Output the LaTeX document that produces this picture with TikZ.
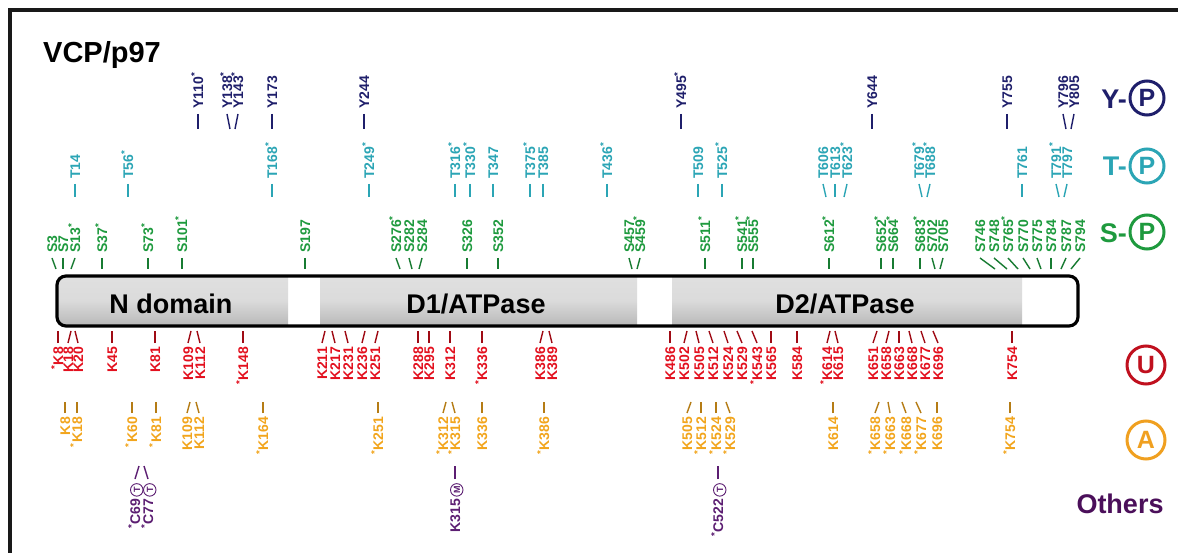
\documentclass[tikz,border=0pt]{standalone}
\usepackage{fontspec}
\setmainfont{Liberation Sans}
\usetikzlibrary{calc}
\definecolor{ycol}{HTML}{1F1F6B}
\definecolor{tcol}{HTML}{2BA5B5}
\definecolor{scol}{HTML}{1E9A3E}
\definecolor{ucol}{HTML}{E3101E}
\definecolor{acol}{HTML}{F2A51C}
\definecolor{ocol}{HTML}{5C1E72}
\definecolor{ucirc}{HTML}{C0101E}
\definecolor{acirc}{HTML}{F0A020}
\definecolor{othcol}{HTML}{4B0F5A}
\newcommand\astr{\textsuperscript{*}}
% small circled letter (symbol drawn as a shape)
\newcommand\circled[1]{\,\tikz[baseline=(c.base),x=1pt,y=1pt]\node[circle,draw=ocol,line width=0.9pt,inner sep=0pt,
   minimum size=12.5pt,text height=6.5pt,text depth=0pt,text=ocol,
   font=\fontsize{9}{9}\selectfont\bfseries] (c) {#1};}
% top label: style, name, x, dx, text, y text start, y tick end
\newcommand\toplab[7]{%
  \node[#1,anchor=west] (#2) at (#3,#6) {#5};
  \coordinate (#2-b) at ({#3+#4},#7);
  \draw[#1-tk] ([yshift=-5pt]#2.west) -- (#2-b);}
% bottom label: style, name, x, dx, text, y text top, y tick end
\newcommand\botlab[7]{%
  \node[#1,anchor=east] (#2) at (#3,#6) {#5};
  \coordinate (#2-b) at ({#3+#4},#7);
  \draw[#1-tk] ([yshift=4pt]#2.east) -- (#2-b);}
\newcommand\Ylab[4]{\toplab{ylab}{#1}{#2}{#3}{#4}{109}{129}}
\newcommand\Tlab[4]{\toplab{tlab}{#1}{#2}{#3}{#4}{179}{197}}
\newcommand\Slab[4]{\toplab{slab}{#1}{#2}{#3}{#4}{253}{269}}
\newcommand\Ulab[4]{\botlab{ulab}{#1}{#2}{#3}{#4}{347}{331}}
\newcommand\Alab[4]{\botlab{alab}{#1}{#2}{#3}{#4}{417}{402}}
\newcommand\Olab[4]{\botlab{olab}{#1}{#2}{#3}{#4}{483}{466}}
\tikzset{
  tk/.style={line width=1.4pt},
  lab/.style={inner sep=0pt, rotate=90, text height=10pt, text depth=0pt,
              font=\fontsize{14}{14}\selectfont\bfseries},
  ylab/.style={lab, text=ycol}, ylab-tk/.style={tk, draw=ycol},
  tlab/.style={lab, text=tcol}, tlab-tk/.style={tk, draw=tcol},
  slab/.style={lab, text=scol}, slab-tk/.style={tk, draw=scol!80!black},
  ulab/.style={lab, text=ucol}, ulab-tk/.style={tk, draw=ucol!70!black},
  alab/.style={lab, text=acol}, alab-tk/.style={tk, draw=acol!75!black},
  olab/.style={lab, text=ocol}, olab-tk/.style={tk, draw=ocol},
  frame/.style={line width=4pt, draw=black!90},
  barline/.style={line width=3.2pt, rounded corners=9pt},
  dom/.style={top color=gray!24, bottom color=gray!60, middle color=gray!28},
  domtxt/.style={font=\fontsize{27}{27}\selectfont\bfseries, inner sep=0pt, anchor=base},
  ttl/.style={font=\fontsize{29}{29}\selectfont\bfseries, inner sep=0pt, anchor=base west},
  legtxt/.style={font=\fontsize{27}{27}\selectfont\bfseries, inner sep=0pt},
  legcirc/.style={circle, line width=3pt, minimum size=34pt, inner sep=0pt,
                  font=\fontsize{25}{25}\selectfont\bfseries},
}
\begin{document}
\begin{tikzpicture}[x=1pt,y=-1pt]
\useasboundingbox (0,0) rectangle (1178,553);
\clip (0,0) rectangle (1178,553);
\fill[white] (0,0) rectangle (1178,553);
\draw[frame] (1200,10) -- (10,10) -- (10,600);

\node[ttl] (title) at (43,63) {VCP/p97};

% protein bar
\begin{scope}
  \clip[rounded corners=9pt] (57,276) rectangle (1078,326);
  \shade[dom] (50,270) rectangle (288,330);
  \shade[dom] (320,270) rectangle (637,330);
  \shade[dom] (672,270) rectangle (1022,330);
\end{scope}
\draw[barline] (57,276) rectangle (1078,326);
\node[domtxt] (nd) at (171,313) {N domain};
\node[domtxt] (d1) at (476,313) {D1/ATPase};
\node[domtxt] (d2) at (845,313) {D2/ATPase};

% Y row
\Ylab{y110}{198}{0}{Y110\astr}
\Ylab{y138}{227}{3}{Y138\astr}
\Ylab{y143}{238}{-3}{Y143\astr}
\Ylab{y173}{272}{0}{Y173}
\Ylab{y244}{364}{0}{Y244}
\Ylab{y495}{681}{0}{Y495\astr}
\Ylab{y644}{872}{0}{Y644}
\Ylab{y755}{1007}{0}{Y755}
\Ylab{y796}{1063}{3}{Y796}
\Ylab{y805}{1074}{-3}{Y805}

% T row
\Tlab{t14}{75}{0}{T14}
\Tlab{t56}{128}{0}{T56\astr}
\Tlab{t168}{272}{0}{T168\astr}
\Tlab{t249}{369}{0}{T249\astr}
\Tlab{t316}{455}{0}{T316\astr}
\Tlab{t330}{470}{0}{T330\astr}
\Tlab{t347}{493}{0}{T347}
\Tlab{t375}{530}{0}{T375\astr}
\Tlab{t385}{543}{0}{T385}
\Tlab{t436}{607}{0}{T436\astr}
\Tlab{t509}{698}{0}{T509}
\Tlab{t525}{722}{0}{T525\astr}
\Tlab{t606}{823}{3}{T606}
\Tlab{t613}{835}{0}{T613}
\Tlab{t623}{847}{-3}{T623\astr}
\Tlab{t679}{919}{3}{T679\astr}
\Tlab{t688}{930}{-3}{T688\astr}
\Tlab{t761}{1022}{0}{T761}
\Tlab{t791}{1056}{3}{T791\astr}
\Tlab{t797}{1067}{-3}{T797}

% S row
\Slab{s3}{52}{4}{S3}
\Slab{s7}{63}{0}{S7}
\Slab{s13}{75}{-4}{S13\astr}
\Slab{s37}{102}{0}{S37\astr}
\Slab{s73}{148}{0}{S73\astr}
\Slab{s101}{182}{0}{S101\astr}
\Slab{s197}{305}{0}{S197}
\Slab{s276}{396}{4}{S276\astr}
\Slab{s282}{409}{3}{S282}
\Slab{s284}{422}{-3}{S284}
\Slab{s326}{467}{0}{S326}
\Slab{s352}{498}{0}{S352}
\Slab{s457}{629}{3}{S457}
\Slab{s459}{640}{-3}{S459\astr}
\Slab{s511}{705}{0}{S511\astr}
\Slab{s541}{742}{0}{S541\astr}
\Slab{s555}{753}{0}{S555\astr}
\Slab{s612}{829}{0}{S612\astr}
\Slab{s652}{881}{0}{S652\astr}
\Slab{s664}{893}{0}{S664\astr}
\Slab{s683}{920}{0}{S683\astr}
\Slab{s702}{932}{3}{S702}
\Slab{s705}{943}{-3}{S705}
\Slab{s746}{980}{15}{S746}
\Slab{s748}{994}{13}{S748}
\Slab{s765}{1008}{10}{S765\astr}
\Slab{s770}{1023}{7}{S770}
\Slab{s775}{1037}{4}{S775}
\Slab{s784}{1051}{0}{S784}
\Slab{s787}{1066}{-5}{S787}
\Slab{s794}{1080}{-9}{S794}

% U row
\Ulab{uK8}{58}{0}{\astr K8}
\Ulab{uK18}{68}{3}{K18}
\Ulab{uK20}{78}{-3}{K20}
\Ulab{uK45}{112}{0}{K45}
\Ulab{uK81}{155}{0}{K81}
\Ulab{uK109}{188}{3}{K109}
\Ulab{uK112}{200}{-3}{K112}
\Ulab{uK148}{243}{0}{\astr K148}
\Ulab{uK211}{322}{3}{K211}
\Ulab{uK217}{335}{-3}{K217}
\Ulab{uK231}{348}{-3}{K231}
\Ulab{uK236}{362}{3}{K236}
\Ulab{uK251}{375}{3}{K251}
\Ulab{uK288}{418}{0}{K288}
\Ulab{uK295}{429}{0}{K295}
\Ulab{uK312}{450}{0}{K312}
\Ulab{uK336}{482}{0}{\astr K336}
\Ulab{uK386}{540}{3}{K386}
\Ulab{uK389}{552}{-3}{K389}
\Ulab{uK486}{670}{0}{K486}
\Ulab{uK502}{684}{3}{K502}
\Ulab{uK505}{699}{-3}{K505}
\Ulab{uK512}{713}{-4}{K512}
\Ulab{uK524}{728}{-4}{K524}
\Ulab{uK529}{742}{-5}{K529}
\Ulab{uK543}{757}{-5}{\astr K543}
\Ulab{uK565}{771}{0}{K565}
\Ulab{uK584}{797}{0}{K584}
\Ulab{uK614}{827}{3}{\astr K614}
\Ulab{uK615}{838}{-3}{K615}
\Ulab{uK651}{873}{4}{K651}
\Ulab{uK658}{886}{3}{K658}
\Ulab{uK663}{899}{0}{K663}
\Ulab{uK668}{912}{-3}{K668}
\Ulab{uK677}{925}{-4}{K677}
\Ulab{uK696}{938}{-5}{K696}
\Ulab{uK754}{1012}{0}{K754}

% A row
\Alab{aK8}{65}{0}{K8}
\Alab{aK18}{77}{0}{\astr K18}
\Alab{aK60}{132}{0}{\astr K60}
\Alab{aK81}{156}{0}{\astr K81}
\Alab{aK109}{187}{3}{K109}
\Alab{aK112}{199}{-3}{K112}
\Alab{aK164}{263}{0}{\astr K164}
\Alab{aK251}{378}{0}{\astr K251}
\Alab{aK312}{443}{3}{\astr K312}
\Alab{aK315}{455}{-3}{\astr K315}
\Alab{aK336}{482}{0}{K336}
\Alab{aK386}{544}{0}{\astr K386}
\Alab{aK505}{687}{4}{K505}
\Alab{aK512}{701}{0}{\astr K512}
\Alab{aK524}{716}{0}{\astr K524}
\Alab{aK529}{730}{-4}{\astr K529}
\Alab{aK614}{833}{0}{K614}
\Alab{aK658}{875}{4}{\astr K658}
\Alab{aK663}{890}{-2}{\astr K663}
\Alab{aK668}{906}{-4}{\astr K668}
\Alab{aK677}{921}{-5}{\astr K677}
\Alab{aK696}{937}{0}{K696}
\Alab{aK754}{1010}{0}{\astr K754}

% Others row
\Olab{oC69}{135}{4}{\astr C69\circled{T}}
\Olab{oC77}{148}{-4}{\astr C77\circled{T}}
\Olab{oK315}{455}{0}{K315\circled{M}}
\Olab{oC522}{718}{0}{\astr C522\circled{T}}

% legend
\node[legtxt, text=ycol, anchor=base east] (ylt) at (1127,109) {Y-};
\node[legcirc, draw=ycol, text=ycol] (ylc) at (1147,98) {P};
\node[legtxt, text=tcol, anchor=base east] (tlt) at (1127,176) {T-};
\node[legcirc, draw=tcol, text=tcol] (tlc) at (1147,166) {P};
\node[legtxt, text=scol, anchor=base east] (slt) at (1127,243) {S-};
\node[legcirc, draw=scol, text=scol] (slc) at (1147,232) {P};
\node[legcirc, minimum size=38pt, draw=ucirc, text=ucirc] (ulc) at (1146,365) {U};
\node[legcirc, minimum size=38pt, draw=acirc, text=acirc] (alc) at (1146,440) {A};
\node[legtxt, text=othcol, anchor=base] (oth) at (1120,513) {Others};
\end{tikzpicture}
\end{document}
